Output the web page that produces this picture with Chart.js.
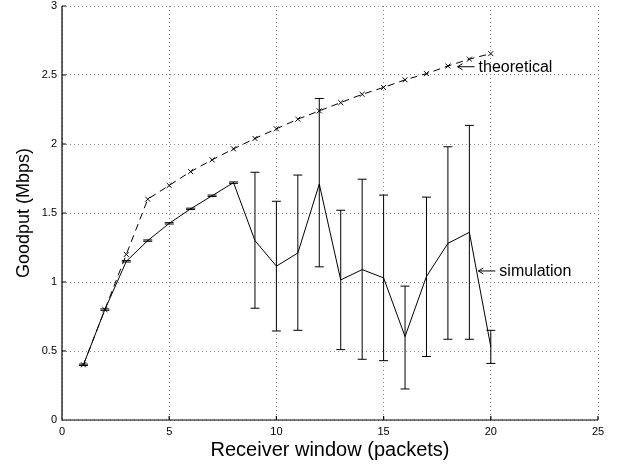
<!DOCTYPE html>
<html>
<head>
<meta charset="utf-8">
<script src="https://cdn.jsdelivr.net/npm/chart.js@4/dist/chart.umd.min.js"></script>
<style>
  html, body { margin: 0; padding: 0; background: #fff; }
  #wrap { width: 618px; height: 464px; }
</style>
</head>
<body>
<div id="wrap"><canvas id="goodput"></canvas></div>
<script>
// receiver window sizes (packets)
const windows = [1, 2, 3, 4, 5, 6, 7, 8, 9, 10, 11, 12, 13, 14, 15, 16, 17, 18, 19, 20];
// theoretical goodput (Mbps)
const theoretical = [0.40, 0.80, 1.20, 1.60, 1.70, 1.80, 1.885, 1.965, 2.04, 2.11, 2.18, 2.24, 2.30, 2.36, 2.41, 2.465, 2.51, 2.565, 2.615, 2.655];
// simulated goodput (Mbps) with min / max
const simulation = [0.40, 0.80, 1.15, 1.30, 1.425, 1.53, 1.625, 1.72, 1.30, 1.115, 1.21, 1.71, 1.015, 1.09, 1.03, 0.605, 1.04, 1.28, 1.36, 0.53];
const simLow  = [0.395, 0.795, 1.145, 1.295, 1.42, 1.525, 1.62, 1.715, 0.81, 0.645, 0.65, 1.11, 0.51, 0.44, 0.43, 0.225, 0.46, 0.585, 0.585, 0.41];
const simHigh = [0.405, 0.805, 1.155, 1.305, 1.43, 1.535, 1.63, 1.725, 1.795, 1.585, 1.775, 2.33, 1.52, 1.745, 1.63, 0.97, 1.615, 1.98, 2.135, 0.65];

// text labels with arrows, anchored at the arrow tip (data coords)
const labels = [
  { text: 'theoretical', x: 18.45, y: 2.56 },
  { text: 'simulation', x: 19.42, y: 1.08 }
];

const FONT = '"Liberation Sans", Arial, Helvetica, sans-serif';

// error bars for the simulation series
const errorBars = {
  id: 'errorBars',
  afterDatasetsDraw(chart) {
    const ctx = chart.ctx;
    const xs = chart.scales.x, ys = chart.scales.y;
    ctx.save();
    ctx.strokeStyle = '#000';
    ctx.lineWidth = 1;
    windows.forEach((w, i) => {
      const px = xs.getPixelForValue(w);
      const lo = ys.getPixelForValue(simLow[i]);
      const hi = ys.getPixelForValue(simHigh[i]);
      ctx.beginPath();
      ctx.moveTo(px, lo); ctx.lineTo(px, hi);
      ctx.moveTo(px - 4.5, lo); ctx.lineTo(px + 4.5, lo);
      ctx.moveTo(px - 4.5, hi); ctx.lineTo(px + 4.5, hi);
      ctx.stroke();
    });
    ctx.restore();
  }
};

// matlab-like axes: solid left / bottom lines, inward ticks
const axesBox = {
  id: 'axesBox',
  afterDraw(chart) {
    const ctx = chart.ctx;
    const a = chart.chartArea;
    const xs = chart.scales.x, ys = chart.scales.y;
    ctx.save();
    ctx.strokeStyle = '#000';
    ctx.lineWidth = 1.2;
    ctx.beginPath();
    ctx.moveTo(a.left, a.top); ctx.lineTo(a.left, a.bottom); ctx.lineTo(a.right, a.bottom);
    xs.ticks.forEach(t => {
      const p = xs.getPixelForValue(t.value);
      ctx.moveTo(p, a.bottom); ctx.lineTo(p, a.bottom - 4);
    });
    ys.ticks.forEach(t => {
      const p = ys.getPixelForValue(t.value);
      ctx.moveTo(a.left, p); ctx.lineTo(a.left + 4, p);
    });
    ctx.stroke();

    // annotations
    ctx.lineWidth = 1;
    ctx.fillStyle = '#000';
    ctx.font = '16px ' + FONT;
    ctx.textBaseline = 'middle';
    labels.forEach(l => {
      const px = xs.getPixelForValue(l.x);
      const py = ys.getPixelForValue(l.y);
      ctx.beginPath();
      ctx.moveTo(px, py); ctx.lineTo(px + 17, py);
      ctx.moveTo(px + 5, py - 3); ctx.lineTo(px, py); ctx.lineTo(px + 5, py + 3);
      ctx.stroke();
      ctx.fillText(l.text, px + 21, py + 1);
    });
    ctx.restore();
  }
};

new Chart(document.getElementById('goodput'), {
  type: 'line',
  data: {
    datasets: [
      {
        label: 'theoretical',
        data: windows.map((w, i) => ({ x: w, y: theoretical[i] })),
        borderColor: '#000',
        borderWidth: 1,
        borderDash: [7, 5],
        pointStyle: 'crossRot',
        pointRadius: 3.5,
        pointBorderColor: '#000',
        pointBorderWidth: 1,
        fill: false,
        tension: 0
      },
      {
        label: 'simulation',
        data: windows.map((w, i) => ({ x: w, y: simulation[i] })),
        borderColor: '#000',
        borderWidth: 1,
        pointRadius: 0,
        fill: false,
        tension: 0
      }
    ]
  },
  options: {
    responsive: true,
    maintainAspectRatio: false,
    animation: false,
    layout: { padding: { left: 0, right: 20, top: 6, bottom: 0 } },
    plugins: {
      legend: { display: false },
      tooltip: { enabled: false }
    },
    scales: {
      x: {
        type: 'linear',
        min: 0,
        max: 25,
        afterFit(s) { s.height = 44; s.paddingRight = 0; s.paddingLeft = 0; },
        ticks: { stepSize: 5, padding: 5, color: '#000', font: { family: FONT, size: 11 } },
        grid: { color: '#888', lineWidth: 1, drawTicks: false },
        border: { display: false, dash: [1, 3] },
        title: { display: true, text: 'Receiver window (packets)', color: '#000', padding: { top: 0, bottom: 2 }, font: { family: FONT, size: 20 } }
      },
      y: {
        type: 'linear',
        min: 0,
        max: 3,
        afterFit(s) { s.width = 62; s.paddingTop = 0; s.paddingBottom = 0; },
        ticks: { stepSize: 0.5, padding: 5, color: '#000', font: { family: FONT, size: 11 }, callback: v => String(v) },
        grid: { color: '#888', lineWidth: 1, drawTicks: false },
        border: { display: false, dash: [1, 3] },
        title: { display: true, text: 'Goodput (Mbps)', color: '#000', padding: { top: 13, bottom: 0 }, font: { family: FONT, size: 18 } }
      }
    }
  },
  plugins: [errorBars, axesBox]
});
</script>
</body>
</html>
